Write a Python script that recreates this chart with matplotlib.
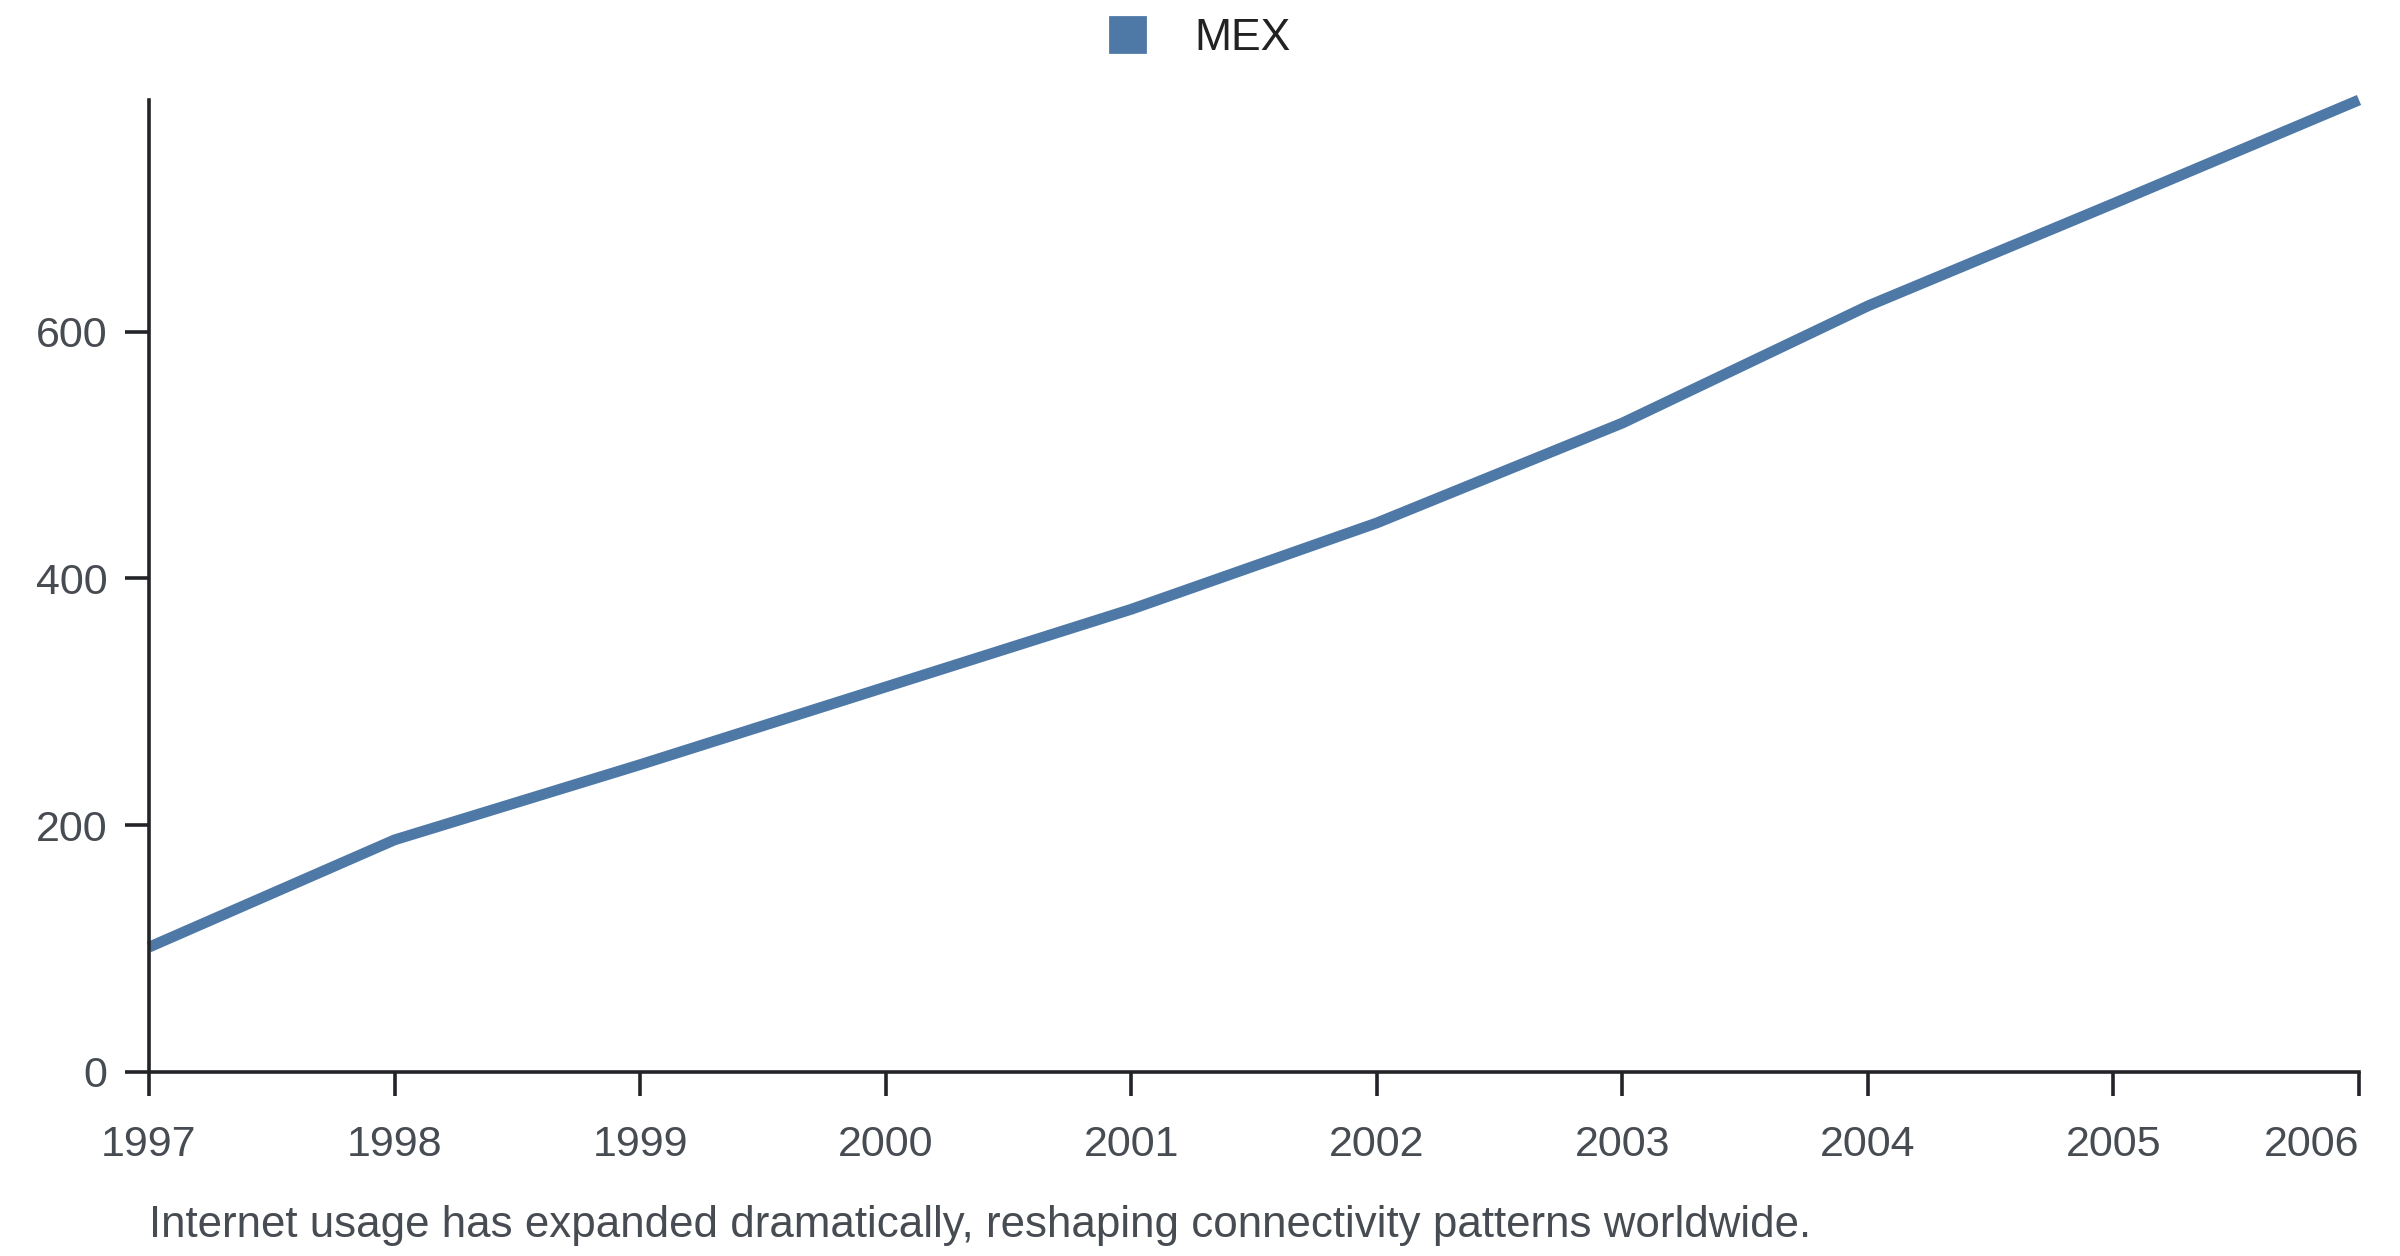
import numpy as np
import matplotlib
matplotlib.use("Agg")
import matplotlib.pyplot as plt
from matplotlib.lines import Line2D

matplotlib.rcParams['font.family'] = ['Liberation Sans', 'DejaVu Sans']

# Data
years = [1997, 1998, 1999, 2000, 2001, 2002, 2003, 2004, 2005, 2006]
mex = [101, 188, 249, 312, 375, 445, 526, 621, 704, 788]
yticks = [0, 200, 400, 600]
caption = "Internet usage has expanded dramatically, reshaping connectivity patterns worldwide."

line_color = '#4e79a7'
axis_color = '#222428'
label_color = '#474b52'

fig = plt.figure(figsize=(12, 6.28), dpi=200)
ax = fig.add_axes([149 / 2400, 1 - 1071.7 / 1256, (2359 - 149) / 2400, (1071.7 - 100) / 1256])

ax.plot(years, mex, color=line_color, linewidth=3.9, solid_capstyle='butt',
        solid_joinstyle='miter', clip_on=False)

ax.set_xlim(years[0], years[-1])
ax.set_ylim(0, max(mex))
ax.set_xticks(years)
ax.set_xticklabels([str(y) for y in years])
ax.set_yticks(yticks)

for side in ['top', 'right']:
    ax.spines[side].set_visible(False)
for side in ['left', 'bottom']:
    ax.spines[side].set_color(axis_color)
    ax.spines[side].set_linewidth(1.3)

ax.tick_params(axis='both', colors=axis_color, length=8.6, width=1.3,
               labelsize=15.5, labelcolor=label_color)
ax.tick_params(axis='x', pad=10.5)
ax.tick_params(axis='y', pad=6.4)
ax.get_xticklabels()[-1].set_horizontalalignment('right')

# Legend
handle = Line2D([], [], linestyle='none', marker='s', markersize=12.6,
                markerfacecolor=line_color, markeredgecolor=line_color)
fig.legend([handle], ['MEX'], loc='center', bbox_to_anchor=(0.5, 1 - 38 / 1256),
           frameon=False, fontsize=16, handlelength=0.8, handletextpad=1.1,
           labelcolor='#222222')

# Caption
fig.text(149 / 2400, 1 - 1237 / 1256, caption, fontsize=15.8, color=label_color,
         ha='left', va='baseline')

fig.savefig('out.png', dpi=200)
